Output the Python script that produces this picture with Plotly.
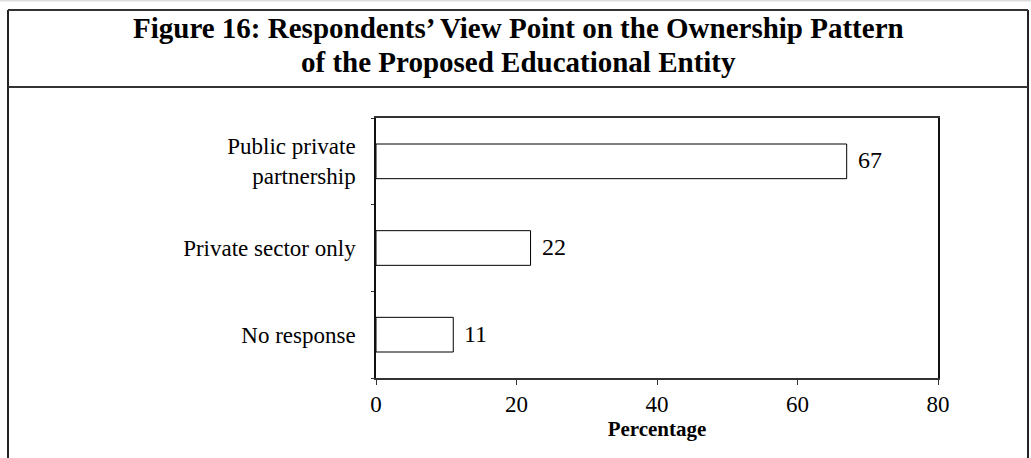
import plotly.graph_objects as go

categories = ["No response", "Private sector only", "Public private<br>partnership"]
values = [11, 22, 67]
value_labels = ["11", "22", "67"]
x_ticks = [0, 20, 40, 60, 80]
title_lines = ["Figure 16: Respondents’ View Point on the Ownership Pattern",
               "of the Proposed Educational Entity"]

W, H = 1031, 458
L, R, T, B = 376, 938, 118, 378  # plot area in pixels

def px(x):
    return (x - L) / (R - L)

def py(y):
    return (B - y) / (B - T)

SERIF = "Liberation Serif, Times New Roman, serif"

fig = go.Figure()
fig.add_trace(go.Bar(
    y=categories, x=values, orientation="h",
    marker=dict(color="white", line=dict(color="black", width=1)),
    showlegend=False, hoverinfo="x+y",
))

shapes = [
    dict(type="line", xref="paper", yref="paper", x0=px(8), x1=px(8), y0=py(10), y1=py(460),
         line=dict(color="#222", width=2)),
    dict(type="line", xref="paper", yref="paper", x0=px(1028), x1=px(1028), y0=py(10), y1=py(460),
         line=dict(color="#222", width=2)),
    dict(type="line", xref="paper", yref="paper", x0=px(8), x1=px(1028), y0=py(10), y1=py(10),
         line=dict(color="#333", width=2)),
    dict(type="line", xref="paper", yref="paper", x0=px(8), x1=px(1028), y0=py(87), y1=py(87),
         line=dict(color="#333", width=2)),
    dict(type="line", xref="paper", yref="paper", x0=px(0), x1=px(1031), y0=py(0.5), y1=py(0.5),
         line=dict(color="#ddd", width=2)),
]

annotations = []
for line, yc in zip(title_lines, [28, 62]):
    annotations.append(dict(
        text="<b>" + line + "</b>", xref="paper", yref="paper", x=px(518), y=py(yc),
        xanchor="center", yanchor="middle", showarrow=False,
        font=dict(family=SERIF, size=29, color="black"),
    ))
for cat, v, lab in zip(categories, values, value_labels):
    annotations.append(dict(
        text=lab, x=v, y=cat, xref="x", yref="y", xanchor="left", yanchor="middle",
        xshift=9, yshift=1, showarrow=False,
        font=dict(family=SERIF, size=24, color="black"),
    ))

fig.update_layout(
    width=W, height=H,
    margin=dict(l=L, r=W - R, t=T, b=H - B),
    paper_bgcolor="white", plot_bgcolor="white",
    bargap=0.6,
    shapes=shapes,
    annotations=annotations,
    xaxis=dict(
        range=[0, 80], tickvals=x_ticks, ticks="outside", ticklen=5, tickcolor="#333",
        showgrid=False, zeroline=False, showline=True, linecolor="#333", linewidth=1.5,
        mirror=True,
        tickfont=dict(family=SERIF, size=23, color="black"),
        title=dict(text="<b>Percentage</b>", font=dict(family=SERIF, size=21, color="black"), standoff=4),
        fixedrange=True,
    ),
    yaxis=dict(
        showgrid=False, zeroline=False, showline=True, linecolor="#111", linewidth=1.5,
        mirror=True, ticks="outside", ticklen=3, tickcolor="#333",
        tickson="boundaries",
        tickfont=dict(family=SERIF, size=23, color="black"),
        ticklabelstandoff=14,
        fixedrange=True,
    ),
    font=dict(family=SERIF, color="black"),
)

fig.write_html("out.html")
